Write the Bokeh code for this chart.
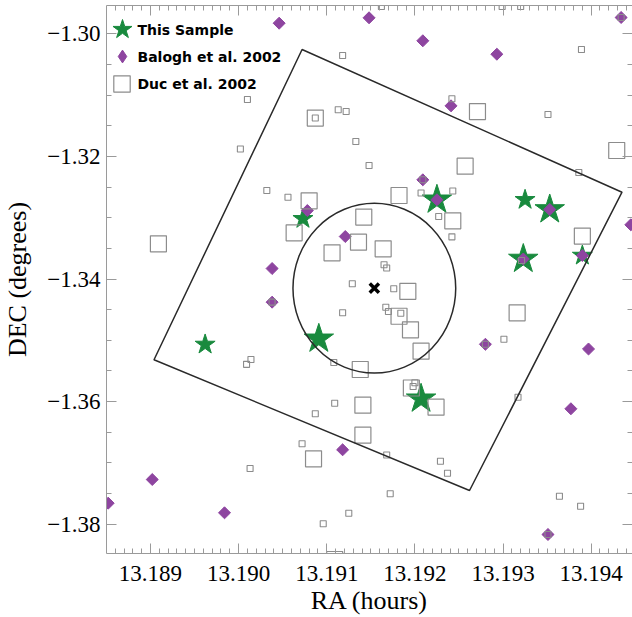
import math
from bokeh.plotting import figure
from bokeh.models import (LinearAxis, SingleIntervalTicker, CustomJSTickFormatter,
                          Legend, LegendItem, Range1d, Label)
from bokeh.embed import file_html
from bokeh.resources import INLINE

# ---------------- data ----------------
# "This Sample" (two marker classes)
star_small_ra = [13.18962, 13.19073, 13.19325, 13.19390]
star_small_dec = [-1.35068, -1.33018, -1.32708, -1.33617]
star_large_ra = [13.19091, 13.19207, 13.19225, 13.19353, 13.19323]
star_large_dec = [-1.34976, -1.35954, -1.32708, -1.32866, -1.33674]

# Balogh et al. 2002
balogh_ra = [13.19046, 13.19148, 13.19209, 13.19293, 13.19434, 13.19241, 13.19209,
             13.19078, 13.19121, 13.19225, 13.19353, 13.19323, 13.19390, 13.19445,
             13.19038, 13.19038, 13.19280, 13.19397, 13.19377, 13.19351, 13.19118,
             13.18902, 13.18852, 13.18984]
balogh_dec = [-1.29827, -1.29739, -1.30114, -1.30333, -1.29734, -1.31175, -1.32382,
              -1.32883, -1.33307, -1.32708, -1.32866, -1.33674, -1.33617, -1.33116,
              -1.33829, -1.34378, -1.35065, -1.35142, -1.36117, -1.38168, -1.36786,
              -1.37271, -1.37657, -1.37814]

# Duc et al. 2002 (bright / faint)
duc_bright_ra = [13.18909, 13.19087, 13.19182, 13.19080, 13.19063, 13.19243, 13.19142,
                 13.19106, 13.19136, 13.19164, 13.19192, 13.19182, 13.19195, 13.19207,
                 13.19138, 13.19196, 13.19224, 13.19141, 13.19141, 13.19085, 13.19109,
                 13.19316, 13.19390, 13.19271, 13.19429, 13.19257]
duc_bright_dec = [-1.33426, -1.31374, -1.32638, -1.32724, -1.33246, -1.33051, -1.32989,
                  -1.33573, -1.33400, -1.33507, -1.34201, -1.34608, -1.34829, -1.35178,
                  -1.35476, -1.35778, -1.36091, -1.36059, -1.36548, -1.36933, -1.38576,
                  -1.34551, -1.33299, -1.31268, -1.31904, -1.32160]
duc_faint_ra = [13.19010, 13.19002, 13.19032, 13.19118, 13.19087, 13.19113, 13.19122,
                13.19133, 13.19148, 13.19242, 13.19207, 13.19243, 13.19056, 13.19227,
                13.19242, 13.19165, 13.19168, 13.19129, 13.19176, 13.19167, 13.19170,
                13.19184, 13.19118, 13.19009, 13.19014, 13.19108, 13.19198, 13.19200,
                13.19109, 13.19087, 13.19072, 13.19168, 13.19229, 13.19237, 13.19172,
                13.19125, 13.19096, 13.19013, 13.19317, 13.19364, 13.19388, 13.19301,
                13.19389, 13.19351, 13.19386, 13.19162, 13.19299, 13.19320, 13.19321,
                13.19209, 13.19280, 13.19351, 13.19434, 13.19038]
duc_faint_dec = [-1.31072, -1.31879, -1.32556, -1.30354, -1.31374, -1.31240, -1.31268,
                 -1.31757, -1.32148, -1.31060, -1.32597, -1.32564, -1.32666, -1.32980,
                 -1.33312, -1.33767, -1.33821, -1.34078, -1.34160, -1.34460, -1.34530,
                 -1.34558, -1.34551, -1.35392, -1.35313, -1.35362, -1.35754, -1.35693,
                 -1.36026, -1.36199, -1.36688, -1.36871, -1.36972, -1.37168, -1.37504,
                 -1.37821, -1.37993, -1.37091, -1.35928, -1.37545, -1.37708, -1.34984,
                 -1.30256, -1.31317, -1.32263, -1.29555, -1.29555, -1.29555, -1.33698,
                 -1.32382, -1.35065, -1.38168, -1.29734, -1.34378]

# observed field (corners) and circular region
field_ra = [13.19072, 13.19435, 13.19262, 13.18904]
field_dec = [-1.30256, -1.32584, -1.37450, -1.35318]
center_ra = 13.19154
center_dec = -1.34150
radius_deg = 0.01385

legend_labels = ["This Sample", "Balogh et al. 2002", "Duc et al. 2002"]

# ---------------- figure ----------------
AXC = "#9a9a9a"
GREEN = "#198a3e"
PURPLE = "#8e45a0"
SQC = "#8c8c8c"
SERIF = "Liberation Serif"

W, H = 632, 617
BL, BT, BB = 106, 5, 64          # borders -> frame 106..632 x 5..553
FH = H - BT - BB

p = figure(width=W, height=H, output_backend="svg", toolbar_location=None,
           x_range=Range1d(13.188501, 13.194469), y_range=Range1d(-1.384780, -1.295383),
           min_border_left=BL, min_border_right=0, min_border_top=BT, min_border_bottom=BB,
           x_axis_label="RA (hours)", y_axis_label="DEC (degrees)")
p.outline_line_color = None
p.grid.visible = False
p.background_fill_color = "white"
p.border_fill_color = "white"

xfmt = CustomJSTickFormatter(code="return tick.toFixed(3);")
yfmt = CustomJSTickFormatter(code="return tick.toFixed(2).replace('-', '\\u2212');")
blank = CustomJSTickFormatter(code="return '';")


def style_axis(ax, ticker, fmt, labels=True):
    ax.ticker = ticker
    ax.formatter = fmt
    ax.axis_line_color = AXC
    ax.major_tick_line_color = AXC
    ax.minor_tick_line_color = AXC
    ax.major_tick_in = 10
    ax.major_tick_out = 0
    ax.minor_tick_in = 5
    ax.minor_tick_out = 0
    if labels:
        ax.major_label_text_font = SERIF
        ax.major_label_text_font_size = "23px"
        ax.major_label_text_color = "black"
        ax.axis_label_text_font = SERIF
        ax.axis_label_text_font_size = "26px"
        ax.axis_label_text_font_style = "normal"
        ax.axis_label_text_color = "black"
    else:
        ax.major_label_text_font_size = "0px"
        ax.major_label_standoff = 0
        ax.axis_label = None


style_axis(p.xaxis[0], SingleIntervalTicker(interval=0.001, num_minor_ticks=10), xfmt)
p.xaxis[0].major_label_standoff = 12
p.xaxis[0].axis_label_standoff = 2
style_axis(p.yaxis[0], SingleIntervalTicker(interval=0.02, num_minor_ticks=4), yfmt)
p.yaxis[0].major_label_standoff = 6
p.yaxis[0].axis_label_standoff = 12

top_ax = LinearAxis()
style_axis(top_ax, SingleIntervalTicker(interval=0.001, num_minor_ticks=10), blank, labels=False)
p.add_layout(top_ax, "above")
right_ax = LinearAxis()
style_axis(right_ax, SingleIntervalTicker(interval=0.02, num_minor_ticks=4), blank, labels=False)
p.add_layout(right_ax, "right")

# ---------------- glyphs ----------------
r_star_s = p.scatter(star_small_ra, star_small_dec, marker="star", size=21,
                     fill_color=GREEN, line_color=GREEN)
r_star_l = p.scatter(star_large_ra, star_large_dec, marker="star", size=31,
                     fill_color=GREEN, line_color=GREEN)
r_bal = p.scatter(balogh_ra, balogh_dec, marker="square", size=8.5, angle=math.pi / 4,
                  fill_color=PURPLE, line_color=PURPLE)
# same points as a rhombus marker, only used to draw the legend key
r_bal_key = p.scatter(balogh_ra, balogh_dec, marker="diamond", size=10,
                      fill_color=PURPLE, line_color=PURPLE, visible=False)
r_duc_b = p.scatter(duc_bright_ra, duc_bright_dec, marker="square", size=16,
                    fill_color=None, line_color=SQC, line_width=1.2)
r_duc_f = p.scatter(duc_faint_ra, duc_faint_dec, marker="square", size=6,
                    fill_color=None, line_color=SQC, line_width=1.1)

p.patch(field_ra, field_dec, fill_color=None, line_color="#2a2a2a", line_width=1.5)
p.ellipse(x=[center_ra], y=[center_dec], width=[2 * radius_deg / 15], height=[2 * radius_deg],
          fill_color=None, line_color="#2a2a2a", line_width=1.5)
p.scatter([center_ra], [center_dec], marker="x", size=13, line_color="black", line_width=3.5)


# ---------------- legend ----------------
# keys: one legend box per entry so each key gets its own size
# (legend marker size = 0.4 * key box); key centre at (cx, cy) px from frame top-left
def add_key(renderer, key_px, cx, cy):
    G = key_px / 0.4
    lg = Legend(items=[LegendItem(label="", renderers=[renderer])],
                location=(cx - G / 2, FH - cy - G / 2), margin=0, padding=0, spacing=0,
                glyph_width=round(G), glyph_height=round(G), label_width=0,
                label_standoff=0, label_text_font_size="1px",
                border_line_alpha=0, background_fill_alpha=0)
    p.add_layout(lg)


def add_text(text, tx, cy):
    p.add_layout(Label(x=tx, y=FH - cy, x_units="screen", y_units="screen", text=text,
                       text_font="DejaVu Sans", text_font_style="bold", text_font_size="14px",
                       text_color="black", text_align="left", text_baseline="middle"))


add_key(r_star_s, 20, 16, 24)
add_key(r_bal_key, 13, 16.5, 51)
add_key(r_duc_b, 16.5, 16, 78)
add_text(legend_labels[0], 31, 24)
add_text(legend_labels[1], 31, 51)
add_text(legend_labels[2], 31, 78)

open("out.html", "w", encoding="utf-8").write(file_html(p, INLINE))
